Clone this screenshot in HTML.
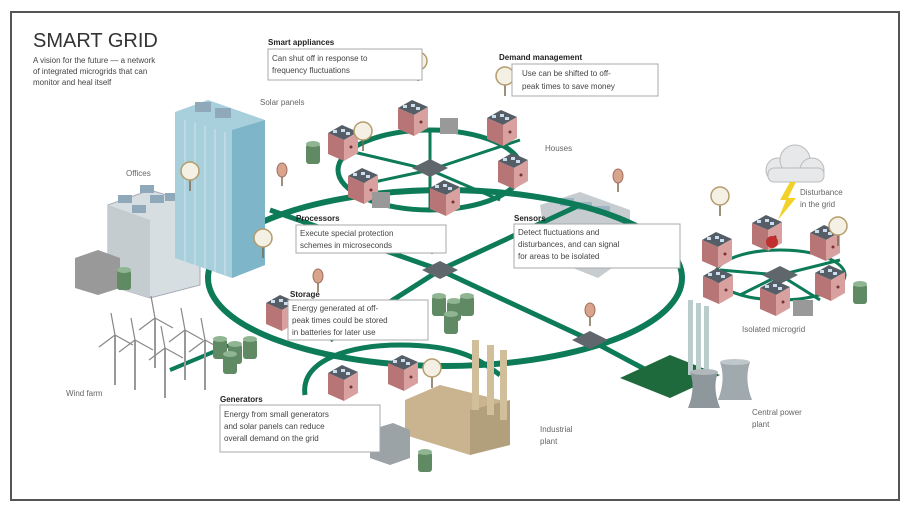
<!DOCTYPE html>
<html><head><meta charset="utf-8"><style>
html,body{margin:0;padding:0;background:#fff;}
svg{display:block;font-family:"Liberation Sans",sans-serif;}
</style></head><body>
<svg width="910" height="516" viewBox="0 0 910 516" xmlns="http://www.w3.org/2000/svg">
<defs>
<g id="house">
<polygon points="0,8 14,0 30,7 16,15" fill="#555e66"/>
<polygon points="0,8 16,15 16,36 0,29" fill="#b87575"/>
<polygon points="16,15 30,7 30,28 16,36" fill="#d9a0a0"/>
<rect x="5" y="5" width="4" height="3" fill="#cde"/><rect x="13" y="4" width="4" height="3" fill="#cde"/><rect x="18" y="7" width="4" height="3" fill="#cde"/>
<circle cx="23" cy="22" r="1.5" fill="#733"/>
</g>
<g id="tank">
<rect x="0" y="4" width="14" height="20" rx="3" fill="#5f8a63"/>
<ellipse cx="7" cy="4" rx="7" ry="3" fill="#8fb592"/>
</g>
<g id="pin">
<line x1="0" y1="0" x2="0" y2="14" stroke="#7a6a50" stroke-width="1.5"/>
<ellipse cx="0" cy="-2" rx="5" ry="7" fill="#d9a48c" stroke="#a07060"/>
</g>
<g id="meter">
<line x1="0" y1="0" x2="0" y2="16" stroke="#7a6a50" stroke-width="1.5"/>
<circle cx="0" cy="-4" r="9" fill="#f4f0e4" stroke="#b49c6c" stroke-width="1.5"/>
</g>
<g id="node">
<polygon points="0,-9 18,0 0,9 -18,0" fill="#5f666c"/>
</g>
<g id="turb">
<line x1="0" y1="0" x2="0" y2="50" stroke="#999" stroke-width="2"/>
<line x1="0" y1="0" x2="-4" y2="-22" stroke="#888" stroke-width="1.2"/>
<line x1="0" y1="0" x2="18" y2="10" stroke="#888" stroke-width="1.2"/>
<line x1="0" y1="0" x2="-16" y2="12" stroke="#888" stroke-width="1.2"/>
</g>
</defs>
<rect x="11" y="12" width="888" height="488" fill="#fff" stroke="#555" stroke-width="2"/>

<!-- sensors area (behind lines) -->
<polygon points="540,205 580,192 630,210 630,255 598,278 548,258" fill="#c6ccd0"/>
<g fill="#9fb4c2"><rect x="560" y="198" width="14" height="8"/><rect x="578" y="202" width="14" height="8"/><rect x="596" y="206" width="14" height="8"/></g>

<!-- grid lines -->
<g fill="none" stroke="#0d7a58" stroke-width="6">
<ellipse cx="445" cy="278" rx="237" ry="88"/>
<ellipse cx="430" cy="170" rx="92" ry="40" stroke-width="5"/>
<path d="M305,395 C300,360 350,345 400,345 C460,345 480,360 500,375" stroke-width="5"/>
<path d="M270,210 L440,270 L590,340 L650,372" stroke-width="5"/>
<path d="M330,340 L440,270 L580,205" stroke-width="5"/>
<path d="M170,370 L230,345" stroke-width="4"/>
</g>
<g fill="none" stroke="#0d7a58" stroke-width="3">
<path d="M345,150 L430,170 L520,140 M360,185 L430,170 L500,200 M430,130 L430,210"/>
<path d="M720,270 L780,275 L840,260 M740,295 L780,275 L820,300"/>
<ellipse cx="780" cy="275" rx="65" ry="25"/>
<path d="M530,240 L600,265"/>
</g>
<use href="#node" x="430" y="168"/>
<use href="#node" x="440" y="270"/>
<use href="#node" x="590" y="340"/>
<use href="#node" x="780" y="275"/>

<!-- title -->
<text x="33" y="47" font-size="20" fill="#333">SMART GRID</text>
<text x="33" y="63" font-size="8" fill="#444">A vision for the future — a network</text>
<text x="33" y="74" font-size="8" fill="#444">of integrated microgrids that can</text>
<text x="33" y="85" font-size="8" fill="#444">monitor and heal itself</text>

<!-- offices -->
<polygon points="108,205 150,190 200,205 200,285 150,298 108,285" fill="#d6dee2" stroke="#aab"/>
<polygon points="108,205 150,220 150,298 108,285" fill="#c4ccd0"/>
<g fill="#8fa9bb"><rect x="118" y="195" width="14" height="8"/><rect x="140" y="185" width="14" height="8"/><rect x="150" y="195" width="14" height="8"/><rect x="165" y="193" width="14" height="8"/><rect x="132" y="205" width="14" height="8"/></g>
<polygon points="175,112 208,100 265,120 265,265 232,278 175,258" fill="#a7cfdc"/>
<polygon points="232,130 265,120 265,265 232,278" fill="#7fb5c9"/>
<g stroke="#cfe6ee" stroke-width="1"><line x1="185" y1="120" x2="185" y2="262"/><line x1="195" y1="123" x2="195" y2="265"/><line x1="205" y1="126" x2="205" y2="268"/><line x1="215" y1="129" x2="215" y2="272"/><line x1="225" y1="132" x2="225" y2="275"/></g>
<rect x="195" y="102" width="16" height="10" fill="#8fa9bb"/><rect x="215" y="108" width="16" height="10" fill="#8fa9bb"/>
<polygon points="75,258 98,250 120,258 120,288 98,295 75,288" fill="#999"/>
<use href="#tank" x="117" y="266"/>
<text x="126" y="176" font-size="8" fill="#666">Offices</text>
<text x="260" y="105" font-size="8" fill="#666">Solar panels</text>
<use href="#meter" x="190" y="175"/>
<use href="#meter" x="263" y="242"/>
<use href="#pin" x="282" y="172"/>

<!-- wind farm -->
<use href="#turb" x="115" y="335"/><use href="#turb" x="135" y="340"/><use href="#turb" x="155" y="318"/><use href="#turb" x="165" y="348"/><use href="#turb" x="185" y="330"/><use href="#turb" x="205" y="340"/>
<text x="66" y="396" font-size="8" fill="#666">Wind farm</text>
<use href="#tank" x="213" y="335"/><use href="#tank" x="228" y="340"/><use href="#tank" x="243" y="335"/><use href="#tank" x="223" y="350"/>

<!-- houses top -->
<use href="#house" x="328" y="125"/><use href="#house" x="398" y="100"/><use href="#house" x="487" y="110"/><use href="#house" x="348" y="168"/><use href="#house" x="430" y="180"/><use href="#house" x="498" y="153"/>
<use href="#tank" x="306" y="140"/>
<rect x="440" y="118" width="18" height="16" fill="#999"/><rect x="372" y="192" width="18" height="16" fill="#999"/>
<use href="#meter" x="363" y="135"/><use href="#meter" x="418" y="65"/><use href="#meter" x="505" y="80"/>
<text x="545" y="151" font-size="8" fill="#666">Houses</text>
<use href="#pin" x="618" y="178"/><use href="#pin" x="432" y="240"/>

<circle cx="671" cy="244" r="5" fill="#c0302e"/>

<!-- isolated microgrid -->
<use href="#house" x="702" y="232"/><use href="#house" x="752" y="215"/><use href="#house" x="810" y="225"/><use href="#house" x="703" y="268"/><use href="#house" x="760" y="280"/><use href="#house" x="815" y="265"/>
<circle cx="772" cy="242" r="6" fill="#c0302e"/>
<use href="#tank" x="853" y="280"/><rect x="793" y="300" width="20" height="16" fill="#999"/>
<use href="#meter" x="720" y="200"/><use href="#meter" x="838" y="230"/>
<text x="742" y="332" font-size="8" fill="#666">Isolated microgrid</text>
<g fill="#e6e8ea" stroke="#bbb"><circle cx="778" cy="170" r="12"/><circle cx="795" cy="160" r="15"/><circle cx="812" cy="170" r="12"/><rect x="768" y="168" width="56" height="14" rx="6"/></g>
<polygon points="790,182 796,182 788,198 796,198 778,220 786,200 780,200" fill="#f2d22a"/>
<text x="800" y="195" font-size="8" fill="#666">Disturbance</text>
<text x="800" y="207" font-size="8" fill="#666">in the grid</text>

<!-- storage -->
<use href="#house" x="266" y="295"/><use href="#pin" x="318" y="278"/>
<use href="#tank" x="432" y="292"/><use href="#tank" x="447" y="297"/><use href="#tank" x="460" y="292"/><use href="#tank" x="444" y="310"/>
<!-- bottom houses / factory -->
<use href="#house" x="328" y="365"/><use href="#house" x="388" y="355"/><use href="#meter" x="432" y="372"/>
<polygon points="405,400 440,385 500,400 500,440 470,455 405,435" fill="#c9b48f"/>
<polygon points="470,410 510,400 510,445 470,455" fill="#b29f7c"/>
<rect x="472" y="340" width="7" height="70" fill="#d1bf9b"/><rect x="487" y="345" width="7" height="70" fill="#d1bf9b"/><rect x="500" y="350" width="7" height="70" fill="#d1bf9b"/>
<polygon points="370,430 393,423 410,430 410,458 390,465 370,458" fill="#9ca3a7"/>
<use href="#tank" x="418" y="448"/>
<text x="540" y="432" font-size="8" fill="#666">Industrial</text>
<text x="540" y="444" font-size="8" fill="#666">plant</text>
<use href="#pin" x="590" y="312"/>

<!-- power plant -->
<polygon points="620,378 670,355 720,375 670,398" fill="#1f6a3c"/>
<rect x="688" y="300" width="5" height="75" fill="#bcc"/><rect x="696" y="303" width="5" height="75" fill="#bcc"/><rect x="704" y="306" width="5" height="75" fill="#bcc"/>
<path d="M690,372 L718,372 Q712,388 720,408 L688,408 Q696,388 690,372 Z" fill="#8d979c"/>
<ellipse cx="704" cy="372" rx="14" ry="3" fill="#b0b8bb"/>
<path d="M720,362 L750,362 Q744,380 752,400 L718,400 Q726,380 720,362 Z" fill="#a0aaae"/>
<ellipse cx="735" cy="362" rx="15" ry="3" fill="#c0c7ca"/>
<text x="752" y="415" font-size="8" fill="#666">Central power</text>
<text x="752" y="427" font-size="8" fill="#666">plant</text>

<!-- callouts -->
<g font-size="8" fill="#444">
<text x="268" y="45" font-weight="bold" fill="#222">Smart appliances</text>
<rect x="268" y="49" width="154" height="31" fill="#fff" stroke="#aaa"/>
<text x="272" y="61">Can shut off in response to</text><text x="272" y="73">frequency fluctuations</text>
<text x="499" y="60" font-weight="bold" fill="#222">Demand management</text>
<rect x="512" y="64" width="146" height="32" fill="#fff" stroke="#aaa"/>
<text x="522" y="76">Use can be shifted to off-</text><text x="522" y="89">peak times to save money</text>
<text x="296" y="221" font-weight="bold" fill="#222">Processors</text>
<rect x="296" y="225" width="150" height="28" fill="#fff" stroke="#aaa"/>
<text x="300" y="236">Execute special protection</text><text x="300" y="248">schemes in microseconds</text>
<text x="514" y="221" font-weight="bold" fill="#222">Sensors</text>
<rect x="514" y="224" width="166" height="44" fill="#fff" stroke="#aaa"/>
<text x="518" y="235">Detect fluctuations and</text><text x="518" y="247">disturbances, and can signal</text><text x="518" y="259">for areas to be isolated</text>
<text x="290" y="297" font-weight="bold" fill="#222">Storage</text>
<rect x="288" y="300" width="140" height="40" fill="#fff" stroke="#aaa"/>
<text x="292" y="311">Energy generated at off-</text><text x="292" y="323">peak times could be stored</text><text x="292" y="335">in batteries for later use</text>
<text x="220" y="402" font-weight="bold" fill="#222">Generators</text>
<rect x="220" y="405" width="160" height="47" fill="#fff" stroke="#aaa"/>
<text x="224" y="417">Energy from small generators</text><text x="224" y="429">and solar panels can reduce</text><text x="224" y="441">overall demand on the grid</text>
</g>
</svg>
</body></html>
